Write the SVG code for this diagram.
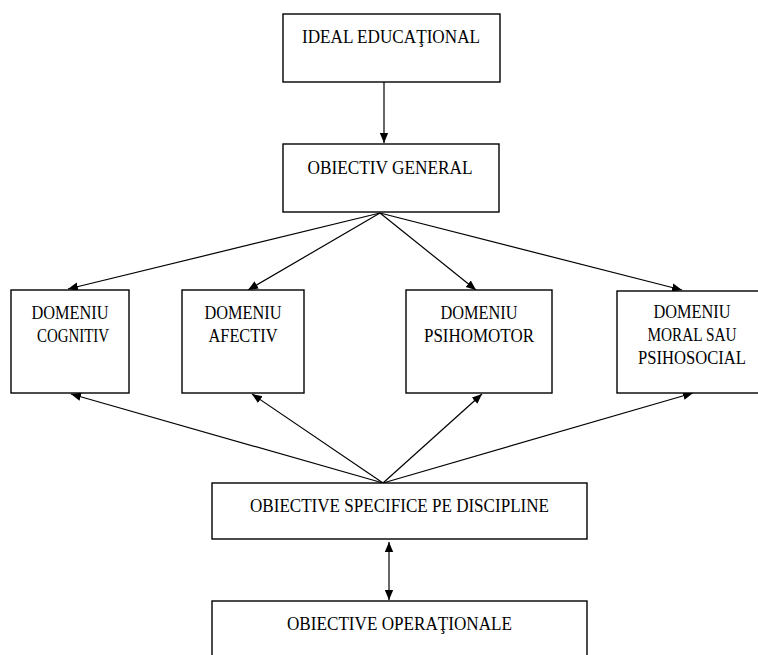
<svg xmlns="http://www.w3.org/2000/svg" width="758" height="655" viewBox="0 0 758 655">
<defs>
<style>
.box{fill:#fff;stroke:#000;stroke-width:1.4}
.t{font-family:"Liberation Serif","Times New Roman",serif;font-size:18.5px;fill:#000;text-anchor:middle}
.c{stroke:#000;stroke-width:1.2;fill:none}
</style>
<marker id="ah" markerUnits="userSpaceOnUse" markerWidth="12" markerHeight="10" refX="10" refY="5" orient="auto-start-reverse" viewBox="0 0 12 10">
<path d="M0,0.8 L10,5 L0,9.2 Z" fill="#000"/>
</marker>
</defs>
<rect width="758" height="655" fill="#fff"/>
<g id="connectors">
<line class="c" x1="384" y1="82" x2="384" y2="143" marker-end="url(#ah)"/>
<line class="c" x1="380" y1="213" x2="68" y2="289" marker-end="url(#ah)"/>
<line class="c" x1="380" y1="213" x2="248" y2="290" marker-end="url(#ah)"/>
<line class="c" x1="380" y1="213" x2="476" y2="290" marker-end="url(#ah)"/>
<line class="c" x1="380" y1="213" x2="682" y2="290" marker-end="url(#ah)"/>
<line class="c" x1="383" y1="483" x2="71" y2="394" marker-end="url(#ah)"/>
<line class="c" x1="383" y1="483" x2="252" y2="394" marker-end="url(#ah)"/>
<line class="c" x1="383" y1="483" x2="482" y2="394" marker-end="url(#ah)"/>
<line class="c" x1="383" y1="483" x2="693" y2="393" marker-end="url(#ah)"/>
<line class="c" x1="389" y1="542" x2="389" y2="600" marker-start="url(#ah)" marker-end="url(#ah)"/>
</g>
<g id="ideal">
<rect class="box" x="283" y="14" width="217" height="68"/>
<text class="t" x="391" y="42.5" textLength="178" lengthAdjust="spacingAndGlyphs">IDEAL EDUCAŢIONAL</text>
</g>
<g id="general">
<rect class="box" x="283" y="144" width="216" height="68"/>
<text class="t" x="390" y="174" textLength="165" lengthAdjust="spacingAndGlyphs">OBIECTIV GENERAL</text>
</g>
<g id="cognitiv">
<rect class="box" x="11" y="290" width="118" height="103"/>
<text class="t" x="70" y="318.5" textLength="77" lengthAdjust="spacingAndGlyphs">DOMENIU</text>
<text class="t" x="73" y="341.5" textLength="72" lengthAdjust="spacingAndGlyphs">COGNITIV</text>
</g>
<g id="afectiv">
<rect class="box" x="182" y="290" width="122" height="103"/>
<text class="t" x="243" y="318.5" textLength="77" lengthAdjust="spacingAndGlyphs">DOMENIU</text>
<text class="t" x="243" y="341.5" textLength="69" lengthAdjust="spacingAndGlyphs">AFECTIV</text>
</g>
<g id="psihomotor">
<rect class="box" x="406" y="290" width="146" height="103"/>
<text class="t" x="479" y="318.5" textLength="77" lengthAdjust="spacingAndGlyphs">DOMENIU</text>
<text class="t" x="479" y="341.5" textLength="110" lengthAdjust="spacingAndGlyphs">PSIHOMOTOR</text>
</g>
<g id="moral">
<rect class="box" x="617" y="291" width="150" height="102"/>
<text class="t" x="692" y="317.5" textLength="77" lengthAdjust="spacingAndGlyphs">DOMENIU</text>
<text class="t" x="692" y="340.5" textLength="89" lengthAdjust="spacingAndGlyphs">MORAL SAU</text>
<text class="t" x="692" y="363.5" textLength="108" lengthAdjust="spacingAndGlyphs">PSIHOSOCIAL</text>
</g>
<g id="specifice">
<rect class="box" x="212" y="483" width="375" height="56"/>
<text class="t" x="399.5" y="511.5" textLength="299" lengthAdjust="spacingAndGlyphs">OBIECTIVE SPECIFICE PE DISCIPLINE</text>
</g>
<g id="operationale">
<rect class="box" x="212" y="601" width="375" height="70"/>
<text class="t" x="399.5" y="630" textLength="225" lengthAdjust="spacingAndGlyphs">OBIECTIVE OPERAŢIONALE</text>
</g>
</svg>
